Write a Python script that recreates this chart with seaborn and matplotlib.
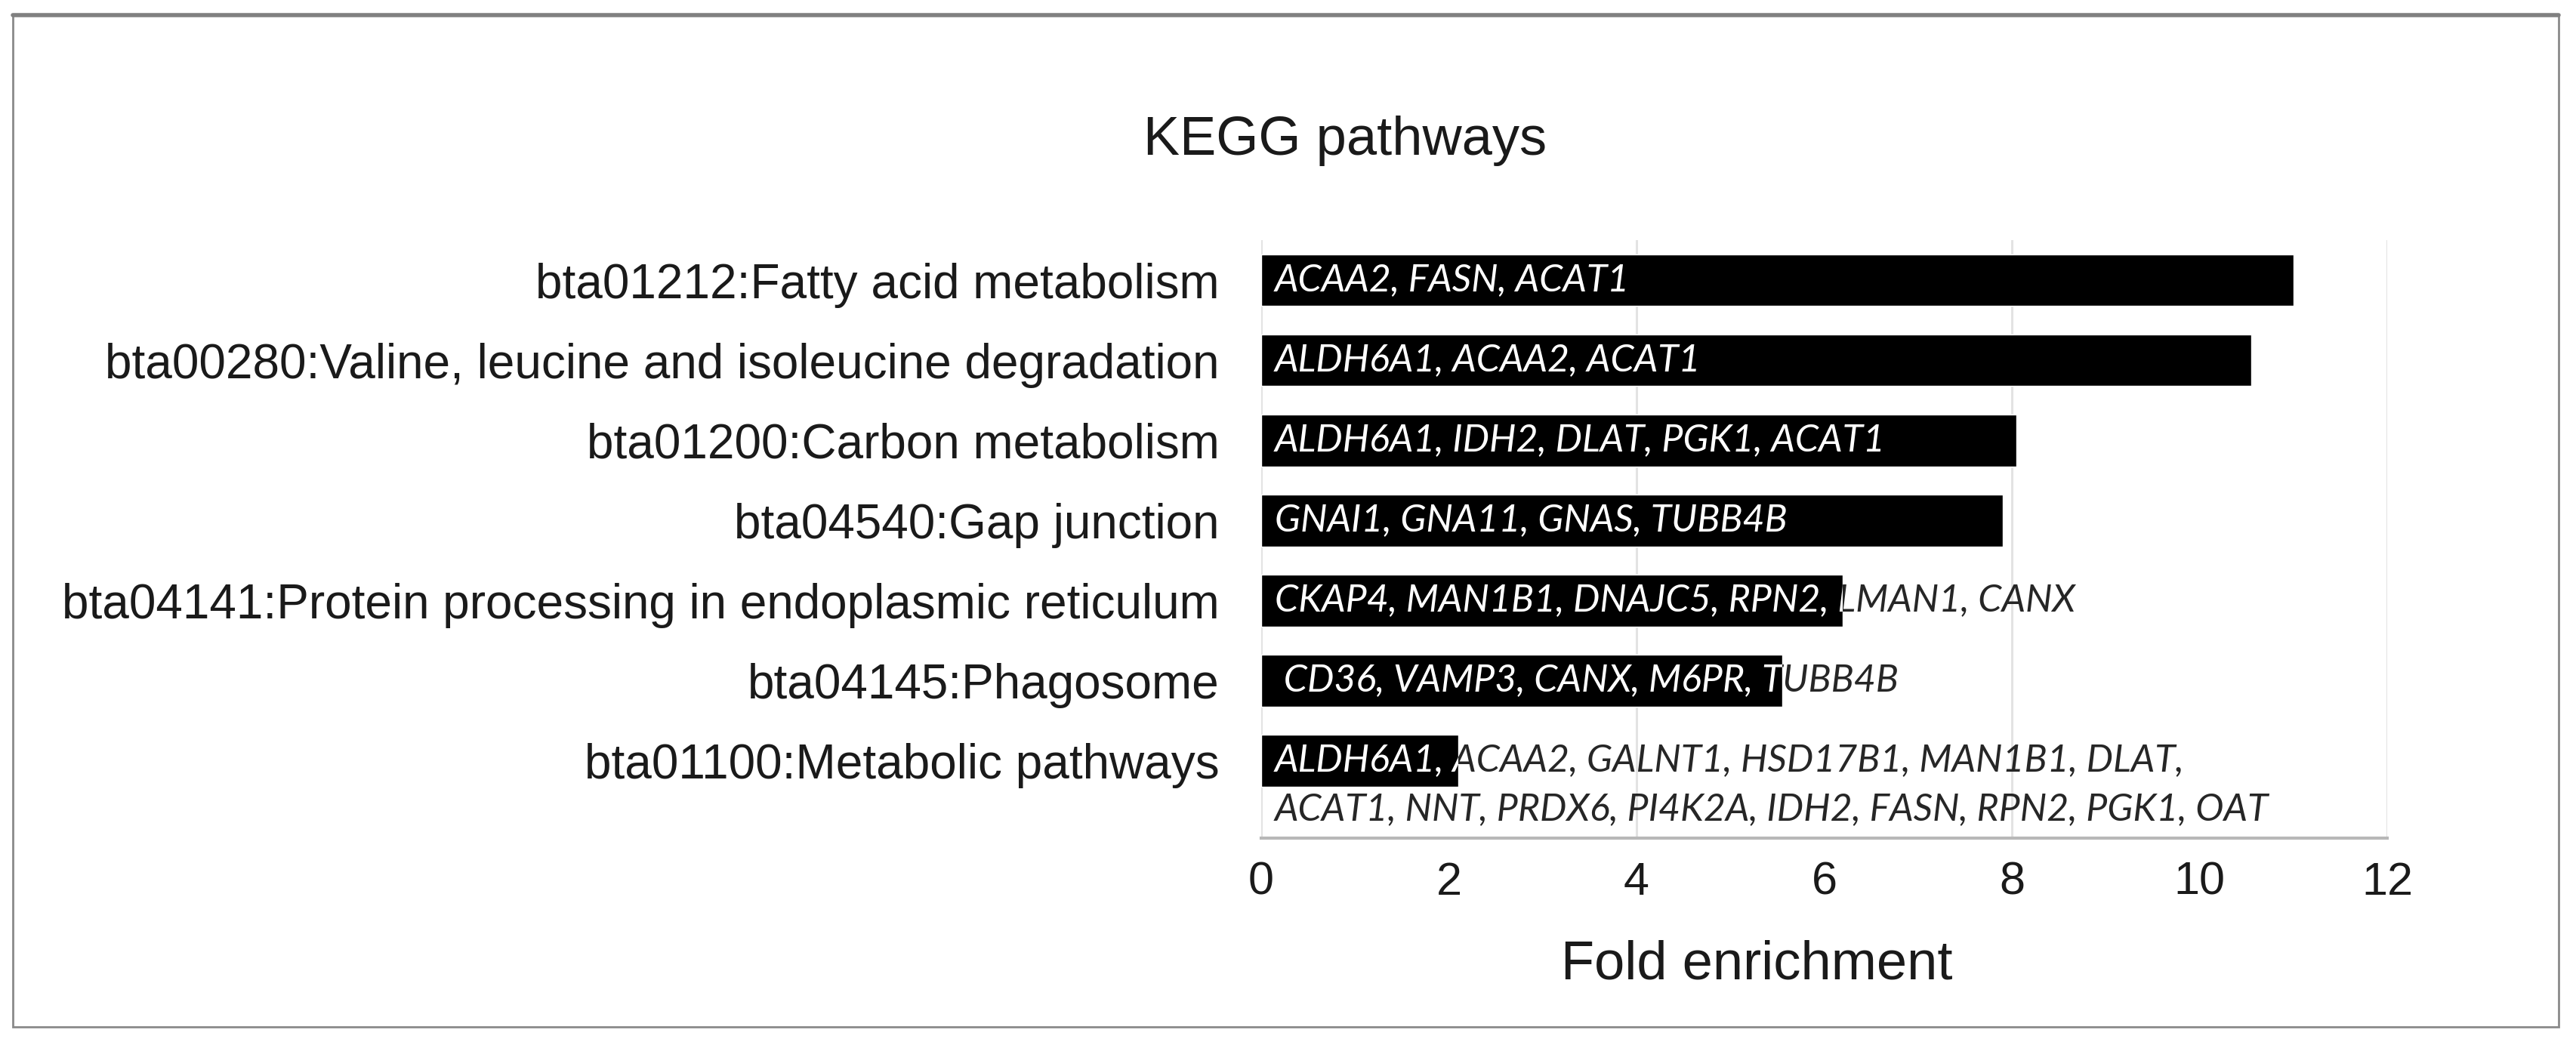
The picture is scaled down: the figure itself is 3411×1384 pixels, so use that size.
import numpy as np
import seaborn as sns
import matplotlib.pyplot as plt
from matplotlib.patches import Rectangle
from matplotlib.lines import Line2D

sns.set_style('white')
plt.rcParams['font.family'] = ['Liberation Sans', 'DejaVu Sans']

pathways = [
    'bta01212:Fatty acid metabolism',
    'bta00280:Valine, leucine and isoleucine degradation',
    'bta01200:Carbon metabolism',
    'bta04540:Gap junction',
    'bta04141:Protein processing in endoplasmic reticulum',
    'bta04145:Phagosome',
    'bta01100:Metabolic pathways',
]
fold_enrichment = [11.0, 10.55, 8.05, 7.9, 6.2, 5.55, 2.1]
genes = [
    'ACAA2, FASN, ACAT1',
    'ALDH6A1, ACAA2, ACAT1',
    'ALDH6A1, IDH2, DLAT, PGK1, ACAT1',
    'GNAI1, GNA11, GNAS, TUBB4B',
    'CKAP4, MAN1B1, DNAJC5, RPN2, LMAN1, CANX',
    ' CD36, VAMP3, CANX, M6PR, TUBB4B',
    'ALDH6A1, ACAA2, GALNT1, HSD17B1, MAN1B1, DLAT,\nACAT1, NNT, PRDX6, PI4K2A, IDH2, FASN, RPN2, PGK1, OAT',
]
x_ticks = [0, 2, 4, 6, 8, 10, 12]
grid_at = [0, 4, 8, 12]

W, H = 3412, 1384
fig = plt.figure(figsize=(W / 100, H / 100), dpi=100)
ax = fig.add_axes([1670 / W, 1 - 1110 / H, (3161 - 1670) / W, (1110 - 318) / H])

sns.barplot(x=fold_enrichment, y=pathways, orient='h', color='black',
            saturation=1, width=0.65, ax=ax, zorder=2)

ax.set_xlim(0, 12)
ax.set_ylim(6.97, -0.5)
for g in grid_at:
    ax.axvline(g, color='#e3e3e3', lw=2.2, zorder=0)

ax.set_xticks(x_ticks)
ax.set_xticklabels([str(t) for t in x_ticks], fontsize=44, color='#1a1a1a')
ax.tick_params(axis='x', length=0, pad=22)
ax.tick_params(axis='y', length=0, pad=40, labelsize=46, labelcolor='#1a1a1a')
ax.set_ylabel('')
ax.set_xlabel('Fold enrichment', fontsize=52, color='#1a1a1a')
ax.xaxis.set_label_coords(0.44, -0.17)

for side in ['top', 'right', 'left']:
    ax.spines[side].set_visible(False)
ax.spines['bottom'].set_color('#b8b8b8')
ax.spines['bottom'].set_linewidth(3)

# gene lists: dark text everywhere, white copy clipped to the bar
bars = ax.containers[0]
line_step = 47
for i, (label, bar) in enumerate(zip(genes, bars)):
    for k, line in enumerate(label.split('\n')):
        kw = dict(xy=(0, i), xytext=(13, -line_step * k), textcoords='offset points',
                  va='center', ha='left', fontsize=36, style='italic',
                  family=['Lato', 'DejaVu Sans'], zorder=3)
        ax.annotate(line, color='#262626', **kw)
        t = ax.annotate(line, color='white', **kw)
        t.set_clip_path(bar)

fig.text(1781 / W, 1 - 187 / H, 'KEGG pathways', ha='center', va='center',
         fontsize=52, color='#1a1a1a')

fig.add_artist(Rectangle((17 / W, 1 - 1360 / H), (3388 - 17) / W, (1360 - 20) / H,
                         transform=fig.transFigure, fill=False,
                         edgecolor='#8a8a8a', lw=2))
fig.add_artist(Line2D([17 / W, 3388 / W], [1 - 20 / H, 1 - 20 / H],
                      transform=fig.transFigure, color='#808080', lw=4))

fig.savefig('out.png', dpi=100)
